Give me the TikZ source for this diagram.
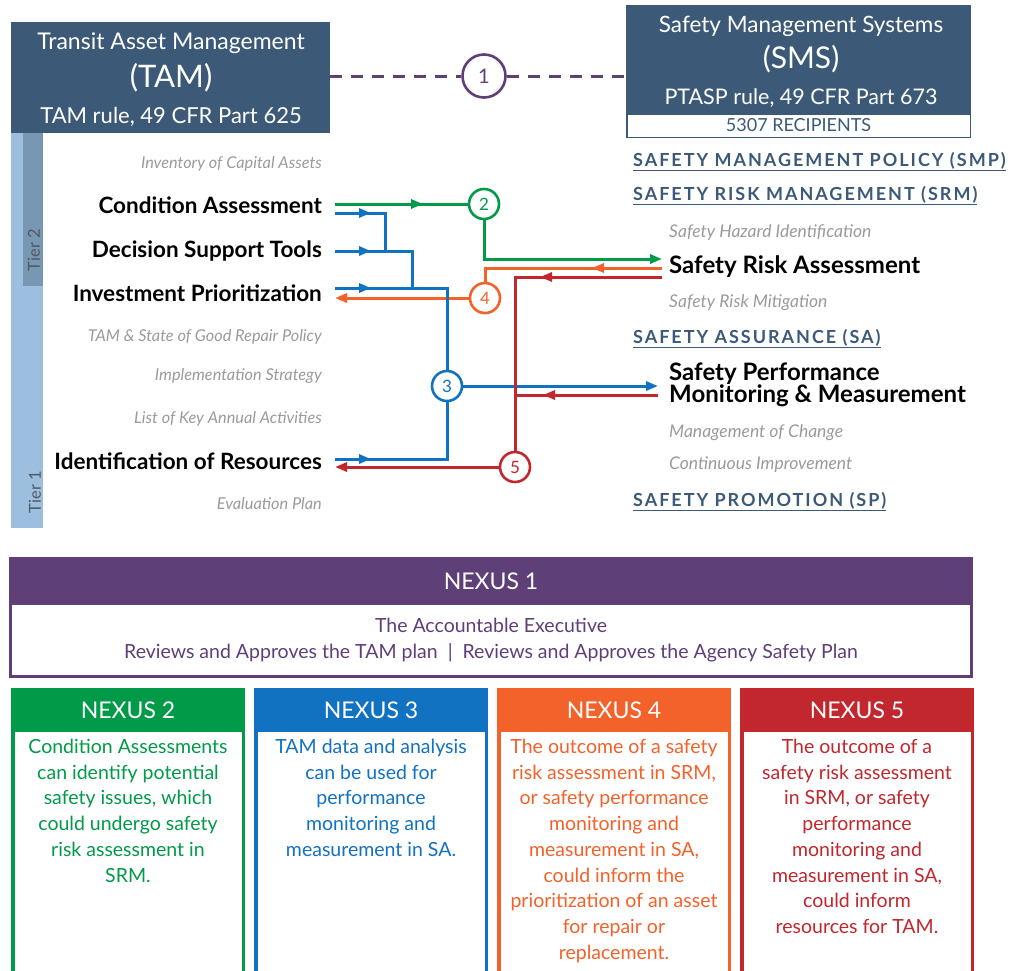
\documentclass[tikz,border=0pt]{standalone}
\usepackage{fontspec}
\setmainfont{Lato}
\usepackage{tikz}
\usetikzlibrary{arrows.meta}
\usetikzlibrary{positioning}
\usetikzlibrary{decorations.markings}

\definecolor{slate}{HTML}{3C5A78}
\definecolor{nexpurple}{HTML}{5E3F77}
\definecolor{nexgreen}{HTML}{009A49}
\definecolor{nexblue}{HTML}{1272C2}
\definecolor{nexorange}{HTML}{F2622A}
\definecolor{nexred}{HTML}{C1272D}
\definecolor{softgray}{HTML}{9A9A9A}
\definecolor{tierlight}{HTML}{9CBFE0}
\definecolor{tierdark}{HTML}{7897B3}
\definecolor{tiertext}{HTML}{4F5A66}

\tikzset{
	head_box/.style={rectangle, fill=slate, inner sep=0pt, outer sep=0pt},
	head_text/.style={anchor=base, text=white, inner sep=0pt},
	num_circle/.style={circle, draw=#1, text=#1, fill=white, line width=2.6pt, inner sep=0pt, minimum size=30pt, font=\fontsize{17}{17}\selectfont},
	link/.style={draw=#1, line width=3pt},
	end_tip/.style={-{Triangle[length=12pt, width=9pt]}},
	mid_tip/.style={postaction=decorate, decoration={markings, mark=at position #1 with {\arrow{Triangle[length=12pt, width=9pt]}}}},
	tam_main/.style={anchor=base east, inner sep=0pt, font=\fontsize{22.5}{22.5}\selectfont\bfseries},
	tam_sub/.style={anchor=base east, inner sep=0pt, text=softgray, font=\fontsize{16.3}{16.3}\selectfont\itshape},
	sms_part/.style={anchor=base west, inner sep=0pt, text=slate, font=\fontsize{18}{18}\selectfont\bfseries\addfontfeatures{LetterSpace=11}},
	sms_main/.style={anchor=base west, inner sep=0pt, font=\fontsize{24}{24}\selectfont\bfseries},
	sms_sub/.style={anchor=base west, inner sep=0pt, text=softgray, font=\fontsize{17.5}{17.5}\selectfont\itshape},
	nexus_box/.style={rectangle, draw=#1, fill=white, line width=3.5pt, minimum width=230.5pt, minimum height=282.5pt},
	nexus_head/.style={rectangle, draw=#1, fill=#1, line width=3.5pt, text=white, minimum width=230.5pt, minimum height=40.5pt, font=\fontsize{23}{23}\selectfont},
	nexus_text/.style={text=#1, inner sep=0pt, align=center, font=\fontsize{19.5}{25.7}\selectfont}
}

\begin{document}
\begin{tikzpicture}[x=1pt, y=-1pt]
	\useasboundingbox (0,0) rectangle (1014,970);
	
	%% KOTAK TAM %%
	% Batang tier di kiri
	\fill[tierlight] (11,133) rectangle (43,528);
	\fill[tierdark] (23,133) rectangle (43,286);
	\node[rotate=90, text=tiertext, font=\fontsize{16.5}{16.5}\selectfont] (tier_2) at (34,250) {Tier 2};
	\node[rotate=90, text=tiertext, font=\fontsize{16.5}{16.5}\selectfont] (tier_1) at (35,492) {Tier 1};
	
	% Judul TAM
	\node[head_box, minimum width=319pt, minimum height=111pt] (tam) at (170.5,77.5) {};
	\node[head_text, font=\fontsize{23}{23}\selectfont] (tam_title) at (171,49) {Transit Asset Management};
	\node[head_text, font=\fontsize{31}{31}\selectfont] (tam_abbr) at (171,87) {(TAM)};
	\node[head_text, font=\fontsize{22}{22}\selectfont] (tam_rule) at (171,123) {TAM rule, 49 CFR Part 625};
	
	% Daftar elemen TAM
	\node[tam_sub] (inventory) at (322,168) {Inventory of Capital Assets};
	\node[tam_main] (cond_assess) at (322,213) {Condition Assessment};
	\node[tam_main] (decision) at (322,257) {Decision Support Tools};
	\node[tam_main] (invest) at (322,301) {Investment Prioritization};
	\node[tam_sub] (sgr_policy) at (322,341) {TAM \& State of Good Repair Policy};
	\node[tam_sub] (strategy) at (322,380) {Implementation Strategy};
	\node[tam_sub] (activities) at (322,423) {List of Key Annual Activities};
	\node[tam_main] (resources) at (322,469) {Identification of Resources};
	\node[tam_sub] (evaluation) at (322,509) {Evaluation Plan};
	%% AKHIR KOTAK TAM %%
	
	%% KOTAK SMS %%
	\node[head_box, minimum width=345pt, minimum height=108pt] (sms) at (798.5,59) {};
	\node[head_text, font=\fontsize{22.5}{22.5}\selectfont] (sms_title) at (801,32) {Safety Management Systems};
	\node[head_text, font=\fontsize{30}{30}\selectfont] (sms_abbr) at (801,68) {(SMS)};
	\node[head_text, font=\fontsize{21.5}{21.5}\selectfont] (sms_rule) at (801,104) {PTASP rule, 49 CFR Part 673};
	\node[rectangle, draw=slate, fill=white, line width=1.5pt, minimum width=343.5pt, minimum height=23.5pt, text=slate, font=\fontsize{18}{18}\selectfont, below=0pt of sms] (sms_recip) {5307 RECIPIENTS};
	
	% Daftar komponen SMS
	\node[sms_part] (smp) at (633,166) {\underline{SAFETY MANAGEMENT POLICY (SMP)}};
	\node[sms_part] (srm) at (633,200) {\underline{SAFETY RISK MANAGEMENT (SRM)}};
	\node[sms_sub] (hazard) at (669,237) {Safety Hazard Identification};
	\node[sms_main] (risk_assess) at (669,273) {Safety Risk Assessment};
	\node[sms_sub] (mitigation) at (669,307) {Safety Risk Mitigation};
	\node[sms_part] (sa) at (633,343) {\underline{SAFETY ASSURANCE (SA)}};
	\node[sms_main] (perf) at (669,380) {Safety Performance};
	\node[sms_main] (perf_2) at (669,402) {Monitoring \& Measurement};
	\node[sms_sub] (change) at (669,437) {Management of Change};
	\node[sms_sub] (improve) at (669,469) {Continuous Improvement};
	\node[sms_part] (sp) at (633,506) {\underline{SAFETY PROMOTION (SP)}};
	%% AKHIR KOTAK SMS %%
	
	%% PENGHUBUNG NEXUS %%
	% Titik ujung garis
	\coordinate (ca_green) at (335,204);
	\coordinate (ca_blue) at (335,213);
	\coordinate (dst_blue) at (335,251);
	\coordinate (ip_blue) at (335,288);
	\coordinate (ip_orange) at (335,298);
	\coordinate (ir_blue) at (335,459);
	\coordinate (ir_red) at (335,467);
	\coordinate (sra_green) at (662,259);
	\coordinate (sra_orange) at (662,268);
	\coordinate (sra_red) at (662,277);
	\coordinate (spmm_blue) at (658,386);
	\coordinate (spmm_red) at (658,395);
	
	% Lingkaran bernomor
	\node[num_circle=nexpurple, minimum size=43pt, font=\fontsize{20}{20}\selectfont] (nexus_c1) at (484,76) {1};
	\node[num_circle=nexgreen] (nexus_c2) at (484,204) {2};
	\node[num_circle=nexblue] (nexus_c3) at (447,386) {3};
	\node[num_circle=nexorange] (nexus_c4) at (485,298) {4};
	\node[num_circle=nexred] (nexus_c5) at (515,467) {5};
	
	% Nexus 1 garis putus-putus
	\draw[link=nexpurple, dash pattern=on 12pt off 9pt] (tam.east |- nexus_c1) -- (nexus_c1);
	\draw[link=nexpurple, dash pattern=on 12pt off 9pt] (nexus_c1) -- (nexus_c1 -| sms.west);
	
	% Nexus 2
	\draw[link=nexgreen, mid_tip=88pt] (ca_green) -- (nexus_c2);
	\draw[link=nexgreen, end_tip] (nexus_c2) |- (sra_green);
	
	% Nexus 4
	\draw[link=nexorange, mid_tip=70pt] (sra_orange) -| (nexus_c4);
	\draw[link=nexorange, end_tip] (nexus_c4) -- (ip_orange);
	
	% Nexus 3
	\draw[link=nexblue, mid_tip=36pt] (ca_blue) -| (385,251);
	\draw[link=nexblue, mid_tip=36pt] (dst_blue) -| (412,288);
	\draw[link=nexblue, mid_tip=36pt] (ip_blue) -| (nexus_c3);
	\draw[link=nexblue, mid_tip=36pt] (ir_blue) -| (nexus_c3);
	\draw[link=nexblue, end_tip] (nexus_c3) -- (spmm_blue);
	
	% Nexus 5
	\draw[link=nexred, mid_tip=122pt] (sra_red) -| (nexus_c5);
	\draw[link=nexred, mid_tip=115pt] (spmm_red) -- (spmm_red -| nexus_c5);
	\draw[link=nexred, end_tip] (nexus_c5) -- (ir_red);
	%% AKHIR PENGHUBUNG %%
	
	%% KOTAK PENJELASAN NEXUS %%
	% Nexus 1
	\node[nexus_box=nexpurple, line width=3pt, minimum width=961pt, minimum height=118pt] (nexus_1) at (491,617.5) {};
	\node[nexus_head=nexpurple, line width=3pt, minimum width=961pt, minimum height=45pt, below=0pt of nexus_1.north] (nexus_1_head) {NEXUS 1};
	\node[nexus_text=nexpurple, below=13pt of nexus_1_head] (nexus_1_text) {The Accountable Executive\\Reviews and Approves the TAM plan \ \textbar\ \ Reviews and Approves the Agency Safety Plan};
	
	% Nexus 2 sampai 5
	\node[nexus_box=nexgreen] (nexus_2) at (128,831) {};
	\node[nexus_box=nexblue, right=9pt of nexus_2] (nexus_3) {};
	\node[nexus_box=nexorange, right=9pt of nexus_3] (nexus_4) {};
	\node[nexus_box=nexred, right=9pt of nexus_4] (nexus_5) {};
	
	\node[nexus_head=nexgreen, below=0pt of nexus_2.north] (nexus_2_head) {NEXUS 2};
	\node[nexus_head=nexblue, below=0pt of nexus_3.north] (nexus_3_head) {NEXUS 3};
	\node[nexus_head=nexorange, below=0pt of nexus_4.north] (nexus_4_head) {NEXUS 4};
	\node[nexus_head=nexred, below=0pt of nexus_5.north] (nexus_5_head) {NEXUS 5};
	
	\node[nexus_text=nexgreen, below=7pt of nexus_2_head] (nexus_2_text) {Condition Assessments\\can identify potential\\safety issues, which\\could undergo safety\\risk assessment in\\SRM.};
	\node[nexus_text=nexblue, below=7pt of nexus_3_head] (nexus_3_text) {TAM data and analysis\\can be used for\\performance\\monitoring and\\measurement in SA.};
	\node[nexus_text=nexorange, below=7pt of nexus_4_head] (nexus_4_text) {The outcome of a safety\\risk assessment in SRM,\\or safety performance\\monitoring and\\measurement in SA,\\could inform the\\prioritization of an asset\\for repair or\\replacement.};
	\node[nexus_text=nexred, below=7pt of nexus_5_head] (nexus_5_text) {The outcome of a\\safety risk assessment\\in SRM, or safety\\performance\\monitoring and\\measurement in SA,\\could inform\\resources for TAM.};
	%% AKHIR KOTAK PENJELASAN %%
\end{tikzpicture}
\end{document}
